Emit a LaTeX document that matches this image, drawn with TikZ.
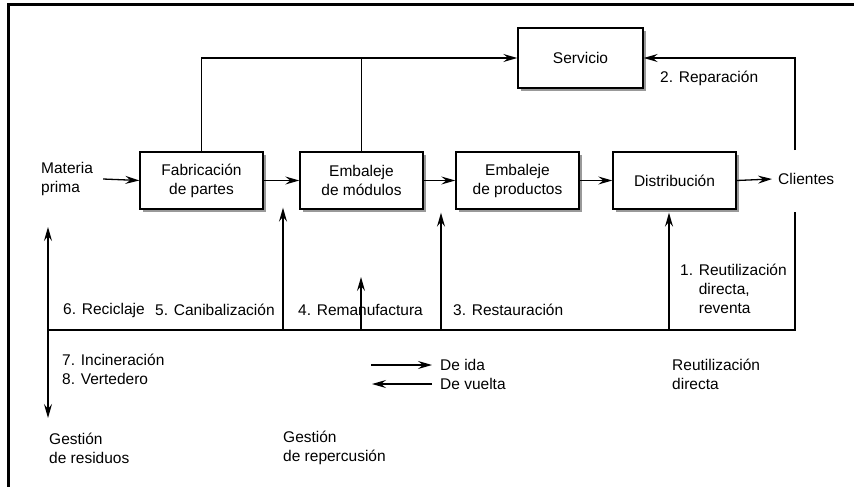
\documentclass[tikz,border=0pt]{standalone}
\usepackage{fontspec}
\setmainfont{Liberation Sans}
\usetikzlibrary{arrows.meta,shadows}
\begin{document}
\begin{tikzpicture}[x=1pt, y=-1pt,
    every node/.style={font=\fontsize{15.5}{19}\selectfont, inner sep=0pt},
    etapa/.style={draw, line width=1.4pt, fill=white, align=center, minimum width=123pt, minimum height=57pt,
        drop shadow={shadow xshift=3pt, shadow yshift=-3pt, fill=black!40, opacity=1}},
    rotulo/.style={anchor=west, align=left},
    flujo/.style={line width=1.3pt},
    punta/.tip={Stealth[length=14pt, width=8pt, inset=5pt]},
    fl/.style={flujo, -punta},
    fll/.style={flujo, punta-punta}]
    \useasboundingbox (0,0) rectangle (854,487);
\draw[line width=3pt] (8,487) -- (8,5) -- (854,5);
% etapas
\node[etapa] (fab) at (201.5,180.5) {Fabricación\\de partes};
\node[etapa] (mod) at (361.5,180.5) {Embaleje\\de módulos};
\node[etapa] (prod) at (517.5,180.5) {Embaleje\\de productos};
\node[etapa] (dist) at (674.5,180.5) {Distribución};
\node[etapa, minimum width=125pt, minimum height=60pt] (serv) at (580.5,58) {Servicio};
\node[rotulo] (mat) at (41,179) {Materia\\prima};
\node[rotulo] (cli) at (778,179) {Clientes};
\draw[fl] ([xshift=10pt]mat.east) -- (fab.west);
\draw[fl] (fab.east) -- (mod.west);
\draw[fl] (mod.east) -- (prod.west);
\draw[fl] (prod.east) -- (dist.west);
\draw[fl] (dist.east) -- ([xshift=-6pt]cli.west);
    % servicio
\draw[fl] (fab.north) |- (serv.west);
\draw[flujo] (mod.north) -- (mod.north |- serv.west);
\coordinate (cu) at (795,150);
\coordinate (cd) at (795,212);
\draw[fl] (cu) |- (serv.east);
\node[rotulo] (rep) at (660,78) {2. Reparación};
    % retorno
\coordinate (c6) at (48,330);
\coordinate (c5) at (283,330);
\coordinate (c4) at (361,330);
\coordinate (c3) at (441,330);
\coordinate (c1) at (669,330);
\draw[flujo] (cd) |- (c6);
\draw[fll] (48,227) -- (48,418);
\draw[fl] (c5) -- ([yshift=2pt]c5 |- fab.south);
\draw[fl] (c4) -- (361,277);
\draw[fl] (c3) -- ([yshift=-3pt]c3 |- prod.south);
\draw[fl] (c1) -- ([yshift=-3pt]c1 |- dist.south);
\node[rotulo] (r6) at (63,310) {6. Reciclaje};
\node[rotulo] (r5) at (155,310) {5. Canibalización};
\node[rotulo] (r4) at (298,310) {4. Remanufactura};
\node[rotulo] (r3) at (453,310) {3. Restauración};
\node[rotulo] (r1) at (680,291) {\begin{tabular}{@{}l@{ }l@{}}1.&Reutilización\\&directa,\\&reventa\end{tabular}};
\node[rotulo] (r7) at (62,369) {7. Incineración\\8. Vertedero};
    % leyenda
\node[rotulo] (ida) at (440,365) {De ida};
\node[rotulo] (vuelta) at (440,384) {De vuelta};
\draw[fl] ([xshift=-69pt]ida.west) -- ([xshift=-8pt]ida.west);
\draw[fl] ([xshift=-8pt]vuelta.west) -- ([xshift=-68pt]vuelta.west);
\node[rotulo] (rd) at (672,374) {Reutilización\\directa};
\node[rotulo] (gr) at (49,448) {Gestión\\de residuos};
\node[rotulo] (gp) at (283,448) {Gestión\\de repercusión};
    \end{tikzpicture}
\end{document}
